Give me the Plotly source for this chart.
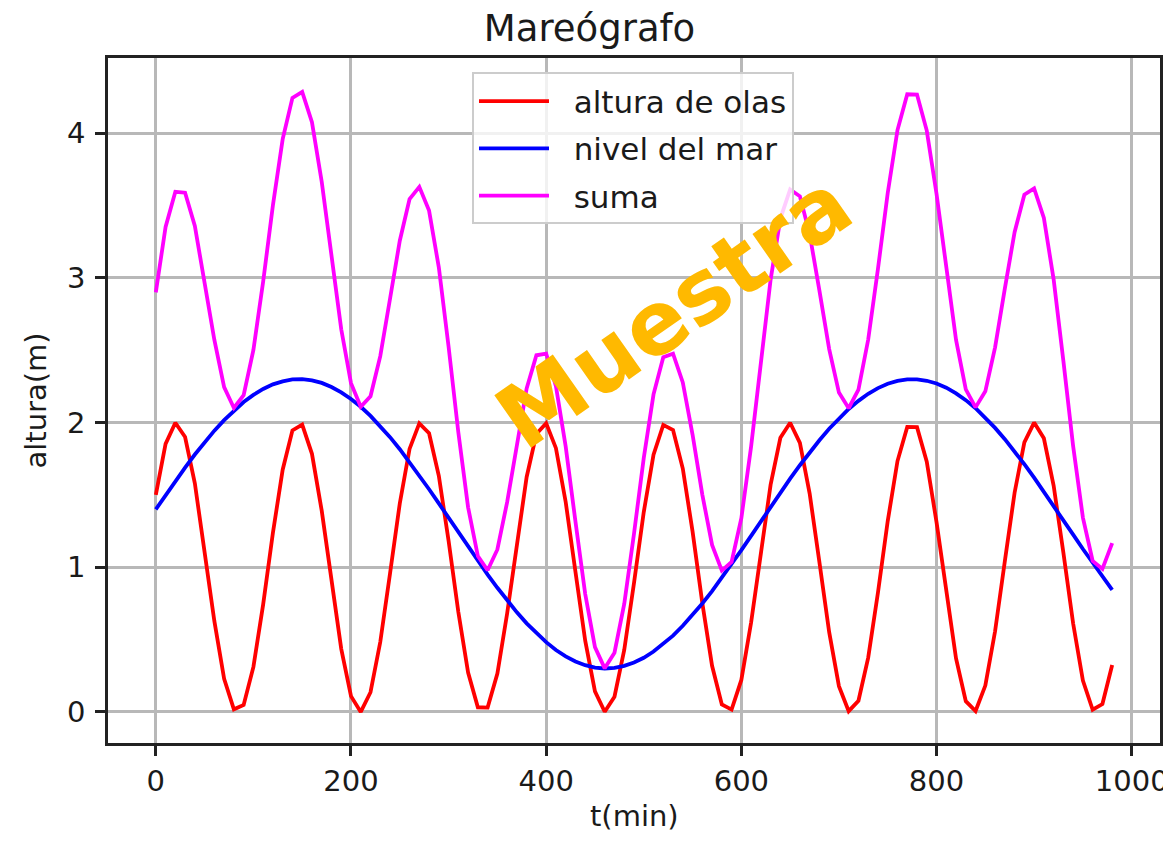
import plotly.graph_objects as go

t_min = [0, 10, 20, 30, 40, 50, 60, 70, 80, 90,
         100, 110, 120, 130, 140, 150, 160, 170, 180, 190,
         200, 210, 220, 230, 240, 250, 260, 270, 280, 290,
         300, 310, 320, 330, 340, 350, 360, 370, 380, 390,
         400, 410, 420, 430, 440, 450, 460, 470, 480, 490,
         500, 510, 520, 530, 540, 550, 560, 570, 580, 590,
         600, 610, 620, 630, 640, 650, 660, 670, 680, 690,
         700, 710, 720, 730, 740, 750, 760, 770, 780, 790,
         800, 810, 820, 830, 840, 850, 860, 870, 880, 890,
         900, 910, 920, 930, 940, 950, 960, 970, 980]

altura_olas = [1.500, 1.853, 1.999, 1.900, 1.580, 1.118, 0.627, 0.228, 0.018, 0.048,
               0.311, 0.743, 1.238, 1.674, 1.946, 1.986, 1.784, 1.391, 0.901, 0.436,
               0.109, 0.000, 0.136, 0.483, 0.957, 1.441, 1.818, 1.994, 1.926, 1.632,
               1.183, 0.690, 0.272, 0.032, 0.030, 0.265, 0.680, 1.173, 1.624, 1.922,
               1.995, 1.823, 1.451, 0.968, 0.492, 0.142, 0.001, 0.105, 0.428, 0.891,
               1.381, 1.778, 1.984, 1.949, 1.682, 1.248, 0.753, 0.319, 0.051, 0.016,
               0.221, 0.618, 1.107, 1.571, 1.895, 1.999, 1.859, 1.509, 1.034, 0.551,
               0.178, 0.005, 0.077, 0.375, 0.825, 1.319, 1.734, 1.970, 1.968, 1.729,
               1.312, 0.818, 0.369, 0.074, 0.006, 0.182, 0.557, 1.041, 1.515, 1.863,
               2.000, 1.891, 1.565, 1.100, 0.611, 0.217, 0.015, 0.054, 0.324]

nivel_mar = [1.400, 1.499, 1.596, 1.689, 1.779, 1.865, 1.944, 2.017, 2.083, 2.142,
             2.191, 2.232, 2.264, 2.285, 2.298, 2.300, 2.292, 2.274, 2.246, 2.209,
             2.163, 2.109, 2.046, 1.976, 1.899, 1.816, 1.727, 1.635, 1.539, 1.441,
             1.342, 1.242, 1.142, 1.045, 0.949, 0.858, 0.770, 0.688, 0.612, 0.543,
             0.482, 0.428, 0.384, 0.348, 0.323, 0.306, 0.300, 0.304, 0.318, 0.341,
             0.374, 0.417, 0.468, 0.527, 0.595, 0.669, 0.749, 0.835, 0.926, 1.021,
             1.118, 1.217, 1.317, 1.417, 1.515, 1.612, 1.705, 1.794, 1.878, 1.957,
             2.029, 2.094, 2.150, 2.199, 2.238, 2.268, 2.288, 2.299, 2.299, 2.289,
             2.270, 2.241, 2.202, 2.155, 2.099, 2.034, 1.963, 1.885, 1.801, 1.712,
             1.619, 1.523, 1.425, 1.325, 1.225, 1.126, 1.028, 0.934, 0.843]

suma = [2.900, 3.352, 3.595, 3.589, 3.359, 2.983, 2.571, 2.245, 2.101, 2.190,
        2.502, 2.975, 3.502, 3.959, 4.244, 4.286, 4.076, 3.665, 3.147, 2.645,
        2.272, 2.109, 2.182, 2.459, 2.856, 3.257, 3.545, 3.629, 3.465, 3.073,
        2.525, 1.932, 1.414, 1.077, 0.979, 1.123, 1.450, 1.861, 2.236, 2.465,
        2.477, 2.251, 1.835, 1.316, 0.815, 0.448, 0.301, 0.409, 0.746, 1.232,
        1.755, 2.195, 2.452, 2.476, 2.277, 1.917, 1.502, 1.154, 0.977, 1.037,
        1.339, 1.835, 2.424, 2.988, 3.410, 3.611, 3.564, 3.303, 2.912, 2.508,
        2.207, 2.099, 2.227, 2.574, 3.063, 3.587, 4.022, 4.269, 4.267, 4.018,
        3.582, 3.059, 2.571, 2.229, 2.105, 2.216, 2.520, 2.926, 3.316, 3.575,
        3.619, 3.414, 2.990, 2.425, 1.836, 1.343, 1.043, 0.988, 1.167]

x_ticks = [0, 200, 400, 600, 800, 1000]
y_ticks = [0, 1, 2, 3, 4]

FONT = "DejaVu Sans"
TXT = "#1a1a1a"
series = [
    ("altura de olas", altura_olas, "#ff0000"),
    ("nivel del mar", nivel_mar, "#0000ff"),
    ("suma", suma, "#ff00ff"),
]

fig = go.Figure()
for name, vals, col in series:
    fig.add_trace(go.Scatter(x=t_min, y=vals, mode="lines",
                             name="\u00a0\u00a0" + name,
                             legendgroup=name,
                             line=dict(color=col, width=3.8)))

axis_common = dict(
    showline=True, mirror=True, linecolor="#222222", linewidth=2.5,
    ticks="outside", ticklen=10, tickwidth=2.5, tickcolor="#222222",
    showgrid=True, gridcolor="#b8b8b8", gridwidth=2.5,
    zeroline=False, automargin=False,
    tickfont=dict(family=FONT, size=29, color=TXT),
)

fig.update_xaxes(range=[-49, 1029], tickvals=x_ticks, **axis_common)
fig.update_yaxes(range=[-0.215, 4.52], tickvals=y_ticks, ticklabelstandoff=4,
                 title=dict(text="altura(m)", font=dict(family=FONT, size=29, color=TXT), standoff=12),
                 **axis_common)

# x axis title as an annotation, as low in the margin as it fits
fig.add_annotation(text="t(min)", xref="paper", yref="paper", x=0.5, y=-0.107,
                   xanchor="center", yanchor="middle", showarrow=False,
                   font=dict(family=FONT, size=29, color=TXT))

fig.add_annotation(text="<b>Muestra</b>", xref="paper", yref="paper",
                   x=0.538, y=0.632, showarrow=False, textangle=-35,
                   font=dict(family=FONT, size=88, color="#ffb900"))

# the page body adds an 8 px margin, so the figure is offset and margins shifted
fig.update_layout(
    width=1163, height=826,
    margin=dict(l=100, r=11, t=50, b=91),
    paper_bgcolor="white", plot_bgcolor="white",
    title=dict(text="Mareógrafo", x=0.5, xanchor="center", y=0.976, yanchor="middle",
               font=dict(family=FONT, size=37, color=TXT)),
    showlegend=True,
    legend=dict(x=0.346, y=0.979, xanchor="left", yanchor="top",
                bgcolor="rgba(255,255,255,0.8)", bordercolor="#cccccc", borderwidth=2,
                font=dict(family=FONT, size=31, color=TXT),
                tracegroupgap=4, traceorder="grouped", itemwidth=70),
)

fig.write_html("out.html")
